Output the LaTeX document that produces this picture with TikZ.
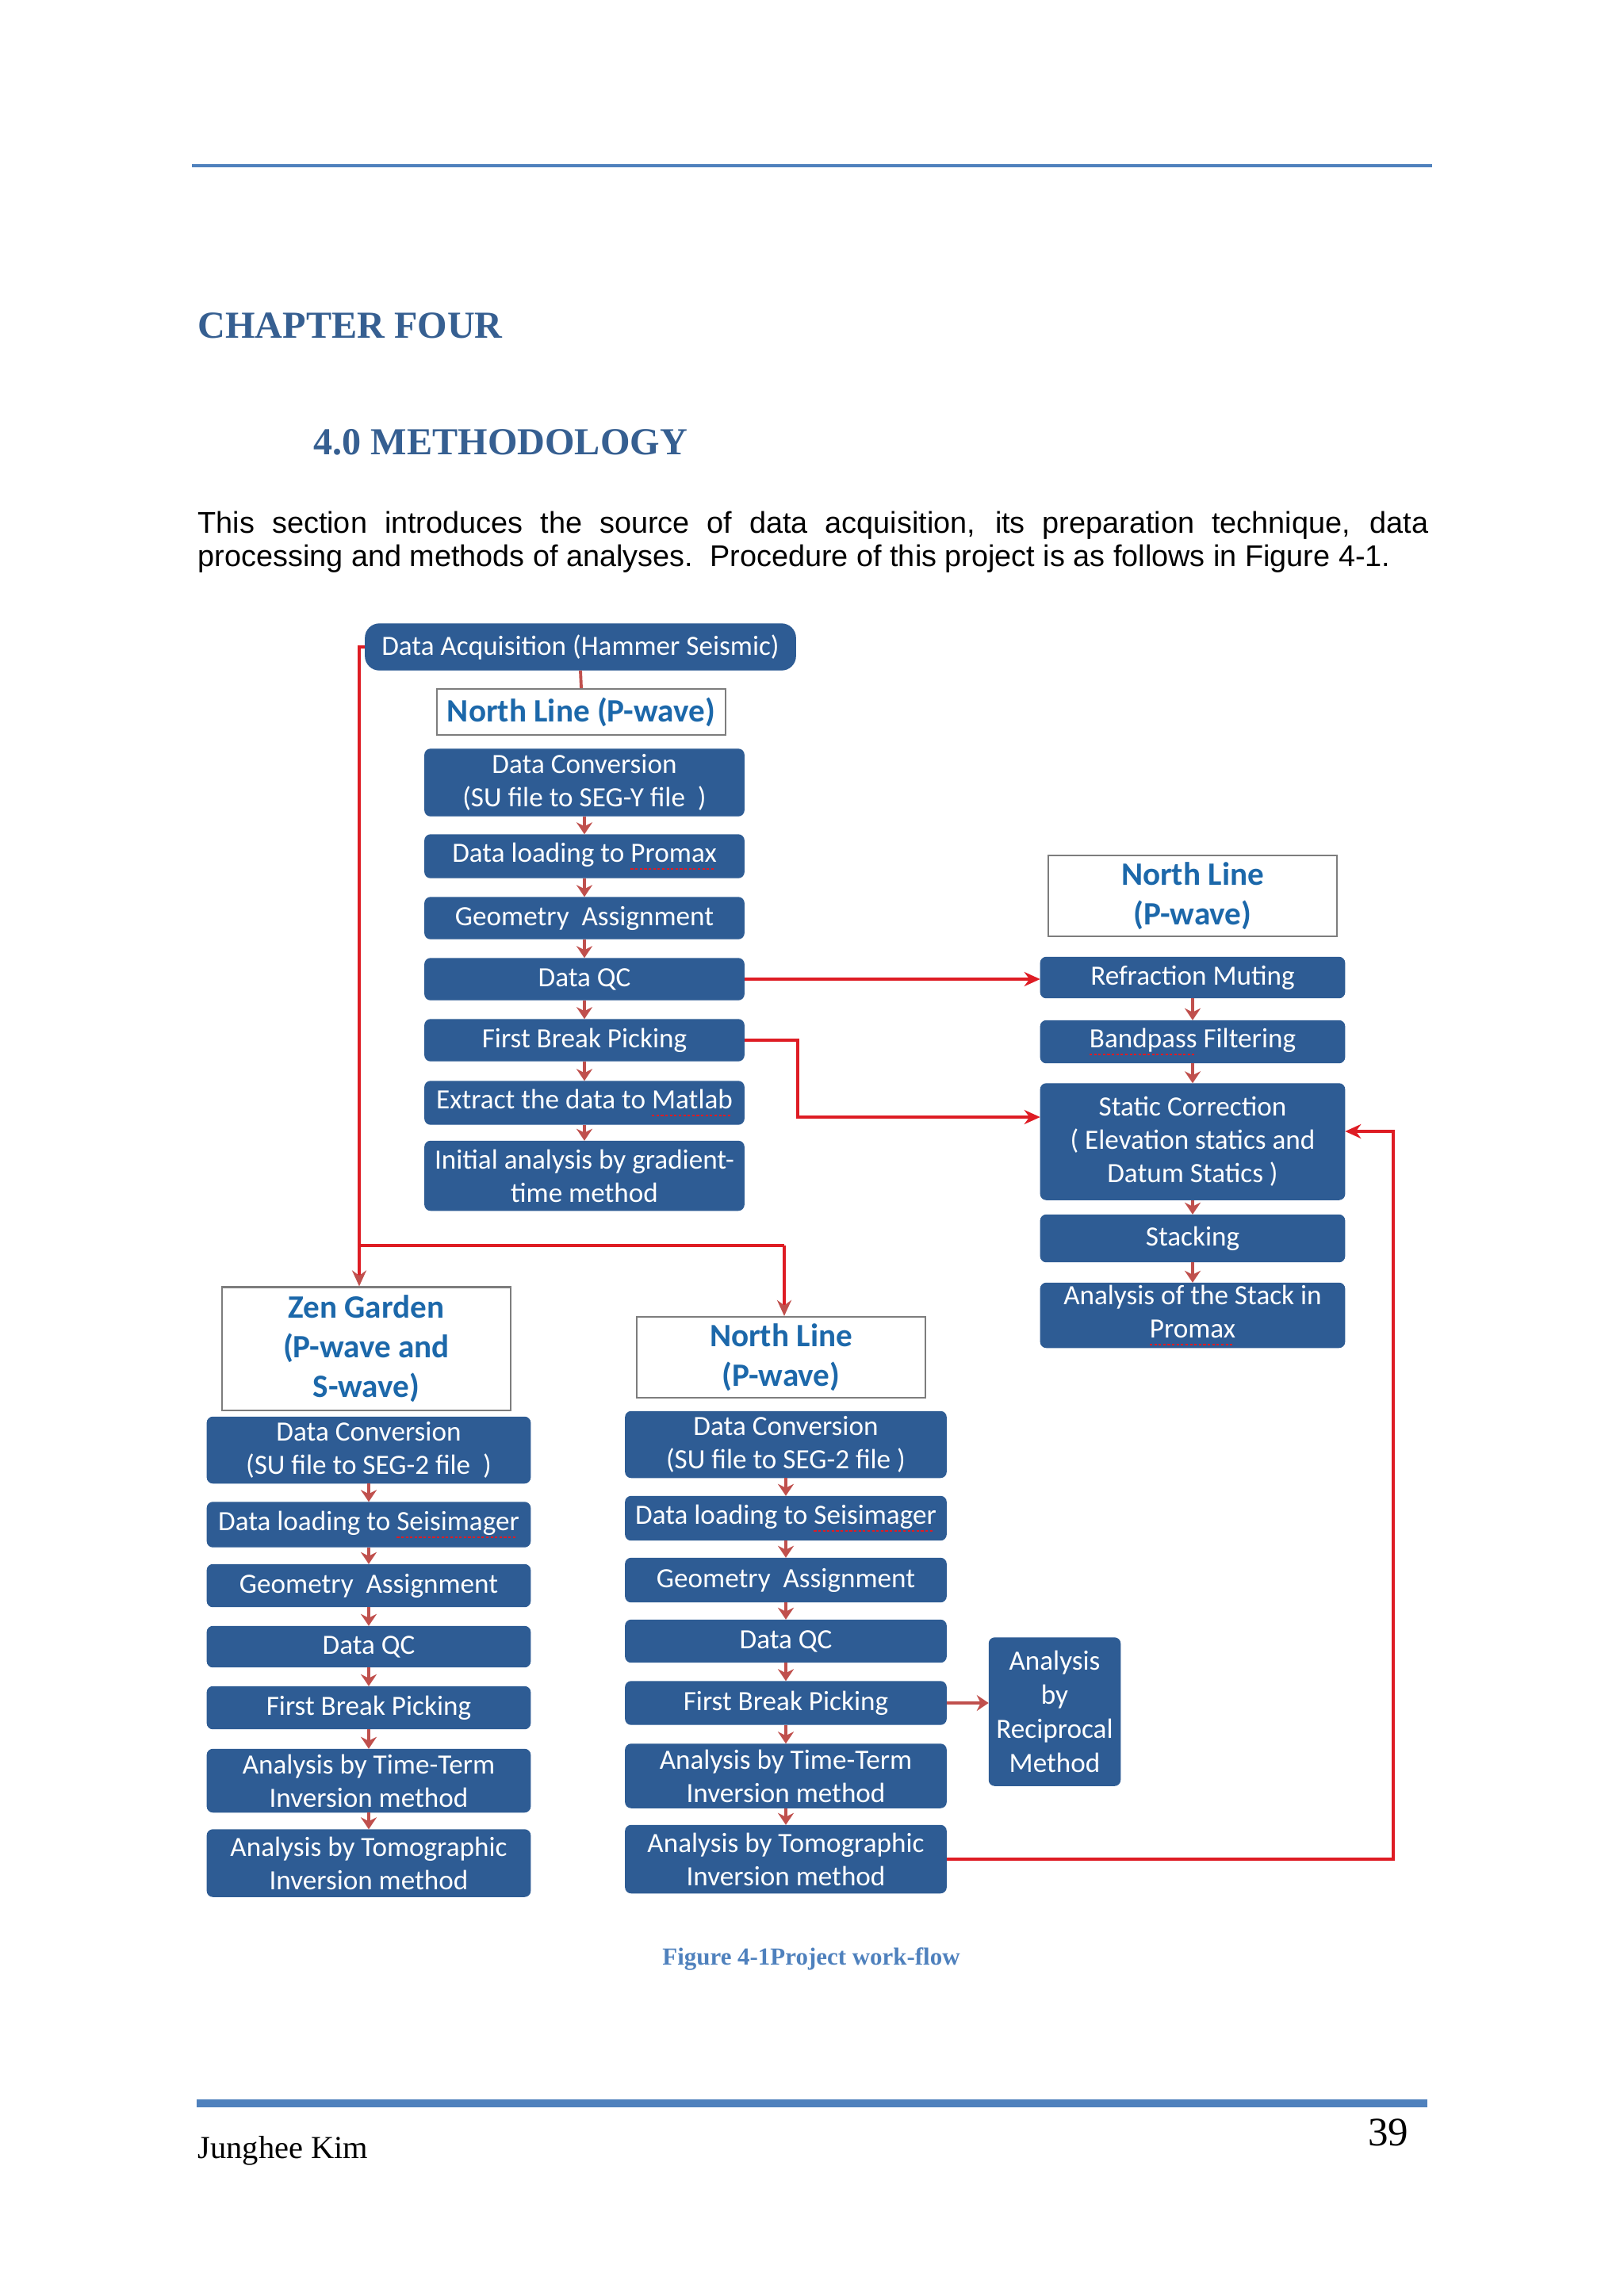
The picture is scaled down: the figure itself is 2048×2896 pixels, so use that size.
\documentclass[tikz,border=0pt]{standalone}
\usepackage{fontspec}
\setmainfont{Liberation Serif}
\newfontfamily\calfont{Carlito}
\newfontfamily\arialfont{Liberation Sans}
\usetikzlibrary{arrows.meta}

\definecolor{boxblue}{RGB}{46,92,148}
\definecolor{titleblue}{RGB}{28,104,170}
\definecolor{headblue}{RGB}{54,95,145}
\definecolor{capblue}{RGB}{79,129,189}
\definecolor{linered}{RGB}{222,28,36}
\definecolor{tipred}{RGB}{192,80,77}
\definecolor{framegray}{RGB}{125,125,125}

% red spell-check marks under a word
\newcommand{\spell}[1]{\leavevmode\setbox0\hbox{#1}%
  \rlap{\raisebox{-2.6pt}{\textcolor{linered}{\hbox to \wd0{\leaders\hbox{\rule{0.9pt}{0.45pt}\hskip0.7pt}\hfil}}}}\box0\relax}

\tikzset{
  blk/.style={draw=boxblue, fill=boxblue, text=white, rounded corners=2pt, align=center, inner sep=0pt,
    font=\calfont\fontsize{10}{11.9}\selectfont},
  titlebox/.style={draw=framegray, line width=0.6pt, fill=white, text=titleblue, align=center, inner sep=0pt,
    font=\calfont\bfseries\fontsize{11.7}{14.2}\selectfont},
  colA/.style={blk, minimum width=4.02cm},
  colB/.style={blk, minimum width=3.83cm},
  colC/.style={blk, minimum width=4.07cm},
  colD/.style={blk, minimum width=4.04cm},
  flow/.style={draw=tipred, line width=1.2pt, -{Stealth[length=0.15cm,width=0.2cm]}},
  link/.style={draw=linered, line width=1.3pt},
  linkarrow/.style={link, -{Stealth[length=0.2cm,width=0.18cm]}},
  downarrow/.style={link, -{Stealth[length=0.2cm,width=0.18cm,color=tipred]}},
}

\begin{document}
\begin{tikzpicture}[x=0.01cm, y=-0.01cm]
    \useasboundingbox (0,0) rectangle (2048,2896);

    % Page header and text
    \draw[capblue, line width=0.035cm] (242,209) -- (1806,209);
    \node[anchor=base west, inner sep=0pt, text=headblue, font=\bfseries\fontsize{13.7}{16}\selectfont] (chap) at (249,426) {CHAPTER FOUR};
    \node[anchor=base west, inner sep=0pt, text=headblue, font=\bfseries\fontsize{13.7}{16}\selectfont] (meth) at (395,573) {4.0 METHODOLOGY};
    \node[anchor=base west, inner sep=0pt, font=\arialfont\fontsize{10.76}{12}\selectfont] (introA) at (249,672)
        {\makebox[15.51cm][s]{This section introduces the source of data acquisition, its preparation technique, data}};
    \node[anchor=base west, inner sep=0pt, font=\arialfont\fontsize{10.76}{12}\selectfont] (introB) at (249,714)
        {processing and methods of analyses.\ \ Procedure of this project is as follows in Figure 4-1.};

    % Top column (North Line, Promax)
    \node[blk, rounded corners=5pt, minimum width=5.42cm, minimum height=0.58cm] (acq) at (732,816) {Data Acquisition (Hammer Seismic)};
    \node[titlebox, minimum width=3.64cm, minimum height=0.58cm] (nlA) at (733,898) {North Line (P-wave)};
    \node[colA, minimum height=0.84cm] (convA) at (737,987) {Data Conversion\\(SU file to SEG-Y file\ \ )};
    \node[colA, minimum height=0.54cm] (loadA) at (737,1080) {Data loading to \spell{Promax}};
    \node[colA, minimum height=0.52cm] (geomA) at (737,1158) {Geometry\ \ Assignment};
    \node[colA, minimum height=0.52cm] (qcA) at (737,1235) {Data QC};
    \node[colA, minimum height=0.52cm] (fbpA) at (737,1312) {First Break Picking};
    \node[colA, minimum height=0.54cm] (matA) at (737,1391) {Extract the data to \spell{Matlab}};
    \node[colA, minimum height=0.87cm] (initA) at (737,1483) {Initial analysis by gradient-\\time method};

    % Right column (processing in Promax)
    \node[titlebox, minimum width=3.64cm, minimum height=1.02cm] (nlB) at (1504,1130) {North Line\\(P-wave)};
    \node[colB, minimum height=0.51cm] (muteB) at (1504,1233) {Refraction Muting};
    \node[colB, minimum height=0.53cm] (bandB) at (1504,1314) {\spell{Bandpass} Filtering};
    \node[colB, minimum height=1.46cm] (statB) at (1504,1440) {Static Correction\\( Elevation statics and\\Datum Statics )};
    \node[colB, minimum height=0.59cm] (stackB) at (1504,1562) {Stacking};
    \node[colB, minimum height=0.81cm] (promB) at (1504,1659) {Analysis of the Stack in\\\spell{Promax}};

    % Zen Garden column
    \node[titlebox, minimum width=3.64cm, minimum height=1.55cm] (zenC) at (462,1701) {Zen Garden\\(P-wave and\\S-wave)};
    \node[colC, minimum height=0.83cm] (convC) at (465,1829) {Data Conversion\\(SU file to SEG-2 file\ \ )};
    \node[colC, minimum height=0.56cm] (loadC) at (465,1923) {Data loading to \spell{Seisimager}};
    \node[colC, minimum height=0.53cm] (geomC) at (465,2000) {Geometry\ \ Assignment};
    \node[colC, minimum height=0.51cm] (qcC) at (465,2077) {Data QC};
    \node[colC, minimum height=0.53cm] (fbpC) at (465,2154) {First Break Picking};
    \node[colC, minimum height=0.79cm] (ttC) at (465,2246) {Analysis by Time-Term\\Inversion method};
    \node[colC, minimum height=0.84cm] (tomoC) at (465,2350) {Analysis by Tomographic\\Inversion method};

    % North Line column (Seisimager)
    \node[titlebox, minimum width=3.63cm, minimum height=1.02cm] (nlD) at (985,1712) {North Line\\(P-wave)};
    \node[colD, minimum height=0.83cm] (convD) at (991,1822) {Data Conversion\\(SU file to SEG-2 file )};
    \node[colD, minimum height=0.55cm] (loadD) at (991,1915) {Data loading to \spell{Seisimager}};
    \node[colD, minimum height=0.55cm] (geomD) at (991,1993) {Geometry\ \ Assignment};
    \node[colD, minimum height=0.53cm] (qcD) at (991,2070) {Data QC};
    \node[colD, minimum height=0.54cm] (fbpD) at (991,2148) {First Break Picking};
    \node[colD, minimum height=0.80cm] (ttD) at (991,2240) {Analysis by Time-Term\\Inversion method};
    \node[colD, minimum height=0.85cm] (tomoD) at (991,2345) {Analysis by Tomographic\\Inversion method};
    \node[blk, minimum width=1.65cm, minimum height=1.86cm, font=\calfont\fontsize{10}{12.2}\selectfont] (recD) at (1330,2159) {Analysis\\by\\Reciprocal\\Method};

    % Steps inside each column
    \draw[draw=tipred, line width=1.1pt] (acq.south) -- (nlA.north);
    \draw[flow] (convA.south) -- (loadA.north);
    \draw[flow] (loadA.south) -- (geomA.north);
    \draw[flow] (geomA.south) -- (qcA.north);
    \draw[flow] (qcA.south) -- (fbpA.north);
    \draw[flow] (fbpA.south) -- (matA.north);
    \draw[flow] (matA.south) -- (initA.north);

    \draw[flow] (muteB.south) -- (bandB.north);
    \draw[flow] (bandB.south) -- (statB.north);
    \draw[flow] (statB.south) -- (stackB.north);
    \draw[flow] (stackB.south) -- (promB.north);

    \draw[flow] (convC.south) -- (loadC.north);
    \draw[flow] (loadC.south) -- (geomC.north);
    \draw[flow] (geomC.south) -- (qcC.north);
    \draw[flow] (qcC.south) -- (fbpC.north);
    \draw[flow] (fbpC.south) -- (ttC.north);
    \draw[flow] (ttC.south) -- (tomoC.north);

    \draw[flow] (convD.south) -- (loadD.north);
    \draw[flow] (loadD.south) -- (geomD.north);
    \draw[flow] (geomD.south) -- (qcD.north);
    \draw[flow] (qcD.south) -- (fbpD.north);
    \draw[flow] (fbpD.south) -- (ttD.north);
    \draw[flow] (ttD.south) -- (tomoD.north);
    \draw[flow] (fbpD.east) -- (fbpD.east -| recD.west);

    % Red links between the columns
    \draw[linkarrow] (qcA.east) -- (qcA.east -| muteB.west);
    \coordinate (bendF) at (1006,1409);
    \draw[linkarrow] (fbpA.east) -| (bendF) -- (bendF -| statB.west);

    \coordinate (loopL) at (453,1571);
    \coordinate (loopR) at (989,1571);
    \draw[link] (acq.west) -- (acq.west -| loopL) -- (loopL) -- (loopR);
    \draw[downarrow] (loopL) -- (loopL |- zenC.north);
    \draw[downarrow] (loopR) -- (loopR |- nlD.north);

    \coordinate (loopE) at (1757,1427);
    \draw[linkarrow] (tomoD.east) -| (loopE) -- (loopE -| statB.east);

    % Caption and footer
    \node[anchor=base, inner sep=0pt, text=capblue, font=\bfseries\fontsize{8.8}{10}\selectfont] (cap) at (1023,2478) {Figure 4-1Project work-flow};
    \draw[capblue, line width=0.1cm] (248,2653) -- (1800,2653);
    \node[anchor=base west, inner sep=0pt, font=\fontsize{11.5}{13}\selectfont] (author) at (249,2722) {Junghee Kim};
    \node[anchor=base east, inner sep=0pt, font=\fontsize{14.5}{16}\selectfont] (page) at (1777,2706) {39};
\end{tikzpicture}
\end{document}
